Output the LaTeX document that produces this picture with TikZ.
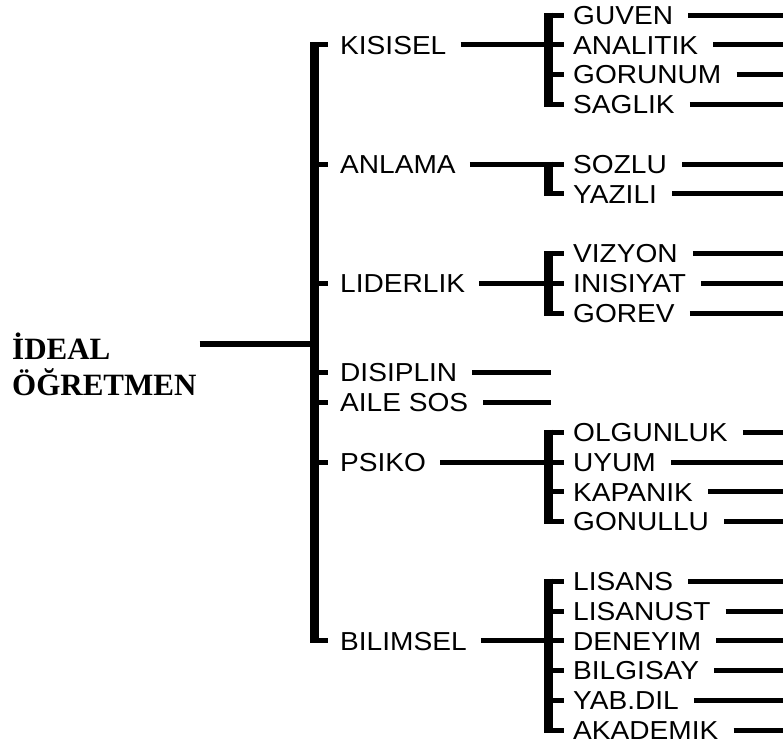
\documentclass[tikz,border=0pt]{standalone}
\usepackage{fontspec}
\usetikzlibrary{calc}
\newfontfamily\labfont[FakeStretch=1.08]{Liberation Sans}
\newfontfamily\rootfont{Liberation Serif}
\begin{document}
\begin{tikzpicture}[x=1pt,y=-1pt,
  lbl/.style={font=\labfont\fontsize{26}{30}\selectfont, anchor=west, inner sep=0pt, text height=18.6pt, text depth=0pt},
  conn/.style={line width=5pt},
  rootconn/.style={line width=6pt},
  barline/.style={line width=9pt},
  rootlbl/.style={font=\rootfont\bfseries\fontsize{31}{36}\selectfont, align=left, inner sep=0pt, anchor=base west}]
\useasboundingbox (0,0) rectangle (783,744);
\coordinate (rx) at (783,0);
\coordinate (sbx) at (548.5,0);
\coordinate (ex) at (551,0);
\coordinate (mbmid) at (314.5,343.5);
% root
\node[rootlbl] (root) at (12,395) {İDEAL\\ÖĞRETMEN};
\draw[rootconn] ($(root.east |- mbmid)+(3,0)$) -- (mbmid);
% main bar
\draw[barline] (314.5,42.3) -- (314.5,643.3);
% level 1
\foreach \n/\t/\y in {kis/KISISEL/44.8, anl/ANLAMA/164, lid/LIDERLIK/283.2, dis/DISIPLIN/372.6, ail/AILE SOS/402.4, psi/PSIKO/462, bil/BILIMSEL/640.8}{
  \node[lbl] (\n) at (340,\y) {\t};
  \draw[conn] (314.5,\y) -- ([xshift=-12pt]\n.west);
}
\foreach \n in {kis,anl,lid,psi,bil}{
  \draw[conn] ([xshift=14pt]\n.east) -- (\n.east -| sbx);
}
\foreach \n in {dis,ail}{
  \draw[conn] ([xshift=15pt]\n.east) -- (\n.east -| ex);
}
% sub bars
\draw[barline] (548.5,12.5) -- (548.5,106.9);
\draw[barline] (548.5,161.5) -- (548.5,196.3);
\draw[barline] (548.5,250.9) -- (548.5,315.5);
\draw[barline] (548.5,429.7) -- (548.5,524.1);
\draw[barline] (548.5,578.7) -- (548.5,732.7);
% level 2
\foreach \n/\t/\y in {guv/GUVEN/15, ana/ANALITIK/44.8, gor/GORUNUM/74.6, sag/SAGLIK/104.4, soz/SOZLU/164, yaz/YAZILI/193.8, viz/VIZYON/253.4, ini/INISIYAT/283.2, grv/GOREV/313, olg/OLGUNLUK/432.2, uyu/UYUM/462, kap/KAPANIK/491.8, gon/GONULLU/521.6, lis/LISANS/581.2, lsu/LISANUST/611, den/DENEYIM/640.8, bgs/BILGISAY/670.6, yab/YAB.DIL/700.4, aka/AKADEMIK/730.2}{
  \node[lbl] (\n) at (573,\y) {\t};
  \draw[conn] (548.5,\y) -- ([xshift=-9pt]\n.west);
  \draw[conn] ([xshift=15pt]\n.east) -- (\n.east -| rx);
}
\end{tikzpicture}
\end{document}
